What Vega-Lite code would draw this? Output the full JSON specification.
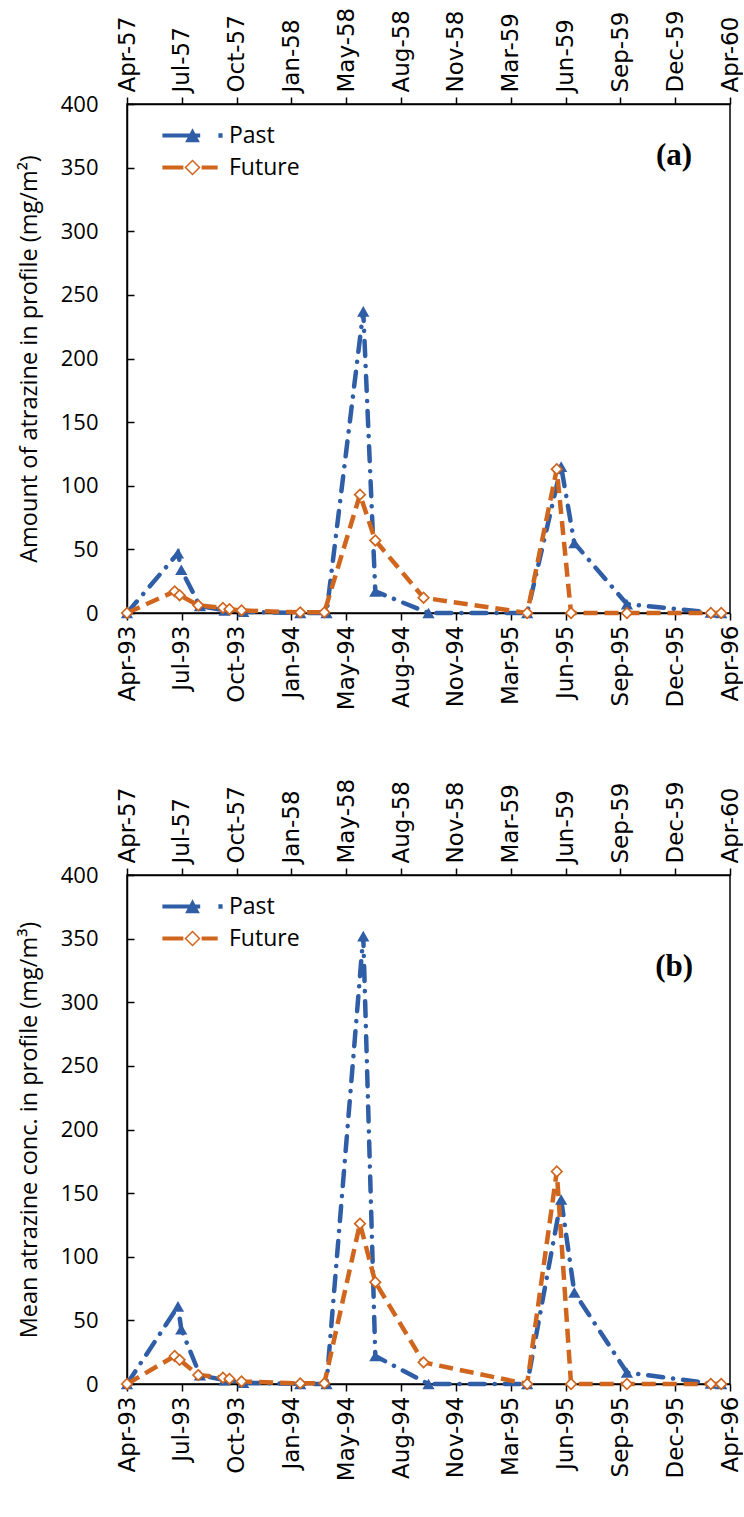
{
  "$schema": "https://vega.github.io/schema/vega-lite/v6.json",
  "background": "white",
  "padding": {"left": 16, "top": 6, "right": 0, "bottom": 0},
  "datasets": {
    "atrazine": [
      {"panel": "a", "series": "Past", "date": "1993-04-01", "value": 0},
      {"panel": "a", "series": "Past", "date": "1993-07-03", "value": 47},
      {"panel": "a", "series": "Past", "date": "1993-07-09", "value": 34},
      {"panel": "a", "series": "Past", "date": "1993-08-12", "value": 5.5},
      {"panel": "a", "series": "Past", "date": "1993-09-26", "value": 2},
      {"panel": "a", "series": "Past", "date": "1993-10-30", "value": 1},
      {"panel": "a", "series": "Past", "date": "1994-02-11", "value": 0},
      {"panel": "a", "series": "Past", "date": "1994-03-31", "value": 0},
      {"panel": "a", "series": "Past", "date": "1994-06-06", "value": 237},
      {"panel": "a", "series": "Past", "date": "1994-06-28", "value": 17},
      {"panel": "a", "series": "Past", "date": "1994-10-03", "value": 0},
      {"panel": "a", "series": "Past", "date": "1995-04-01", "value": 0},
      {"panel": "a", "series": "Past", "date": "1995-06-02", "value": 115},
      {"panel": "a", "series": "Past", "date": "1995-06-26", "value": 55},
      {"panel": "a", "series": "Past", "date": "1995-09-30", "value": 7},
      {"panel": "a", "series": "Past", "date": "1996-03-01", "value": 0.5},
      {"panel": "a", "series": "Past", "date": "1996-03-20", "value": 0},
      {"panel": "a", "series": "Future", "date": "1993-04-01", "value": 0},
      {"panel": "a", "series": "Future", "date": "1993-06-27", "value": 17},
      {"panel": "a", "series": "Future", "date": "1993-07-06", "value": 14},
      {"panel": "a", "series": "Future", "date": "1993-08-09", "value": 6},
      {"panel": "a", "series": "Future", "date": "1993-09-23", "value": 4},
      {"panel": "a", "series": "Future", "date": "1993-10-05", "value": 3},
      {"panel": "a", "series": "Future", "date": "1993-10-27", "value": 2},
      {"panel": "a", "series": "Future", "date": "1994-02-11", "value": 0.5},
      {"panel": "a", "series": "Future", "date": "1994-03-27", "value": 0.5},
      {"panel": "a", "series": "Future", "date": "1994-05-31", "value": 93},
      {"panel": "a", "series": "Future", "date": "1994-06-28", "value": 57},
      {"panel": "a", "series": "Future", "date": "1994-09-24", "value": 12},
      {"panel": "a", "series": "Future", "date": "1995-04-01", "value": 0},
      {"panel": "a", "series": "Future", "date": "1995-05-25", "value": 113},
      {"panel": "a", "series": "Future", "date": "1995-06-20", "value": 0},
      {"panel": "a", "series": "Future", "date": "1995-09-30", "value": 0},
      {"panel": "a", "series": "Future", "date": "1996-03-01", "value": 0},
      {"panel": "a", "series": "Future", "date": "1996-03-20", "value": 0},
      {"panel": "b", "series": "Past", "date": "1993-04-01", "value": 0},
      {"panel": "b", "series": "Past", "date": "1993-07-03", "value": 61},
      {"panel": "b", "series": "Past", "date": "1993-07-09", "value": 43},
      {"panel": "b", "series": "Past", "date": "1993-08-12", "value": 7},
      {"panel": "b", "series": "Past", "date": "1993-09-26", "value": 3},
      {"panel": "b", "series": "Past", "date": "1993-10-30", "value": 1},
      {"panel": "b", "series": "Past", "date": "1994-02-11", "value": 0},
      {"panel": "b", "series": "Past", "date": "1994-03-31", "value": 0},
      {"panel": "b", "series": "Past", "date": "1994-06-06", "value": 352},
      {"panel": "b", "series": "Past", "date": "1994-06-28", "value": 22},
      {"panel": "b", "series": "Past", "date": "1994-10-03", "value": 0},
      {"panel": "b", "series": "Past", "date": "1995-04-01", "value": 0},
      {"panel": "b", "series": "Past", "date": "1995-06-02", "value": 145},
      {"panel": "b", "series": "Past", "date": "1995-06-26", "value": 72},
      {"panel": "b", "series": "Past", "date": "1995-09-30", "value": 9},
      {"panel": "b", "series": "Past", "date": "1996-03-01", "value": 0.5},
      {"panel": "b", "series": "Past", "date": "1996-03-20", "value": 0},
      {"panel": "b", "series": "Future", "date": "1993-04-01", "value": 0},
      {"panel": "b", "series": "Future", "date": "1993-06-27", "value": 22},
      {"panel": "b", "series": "Future", "date": "1993-07-06", "value": 19},
      {"panel": "b", "series": "Future", "date": "1993-08-09", "value": 7},
      {"panel": "b", "series": "Future", "date": "1993-09-23", "value": 5},
      {"panel": "b", "series": "Future", "date": "1993-10-05", "value": 4},
      {"panel": "b", "series": "Future", "date": "1993-10-27", "value": 2},
      {"panel": "b", "series": "Future", "date": "1994-02-11", "value": 0.5},
      {"panel": "b", "series": "Future", "date": "1994-03-27", "value": 0.5},
      {"panel": "b", "series": "Future", "date": "1994-05-31", "value": 126},
      {"panel": "b", "series": "Future", "date": "1994-06-28", "value": 80},
      {"panel": "b", "series": "Future", "date": "1994-09-24", "value": 17},
      {"panel": "b", "series": "Future", "date": "1995-04-01", "value": 0},
      {"panel": "b", "series": "Future", "date": "1995-05-25", "value": 167},
      {"panel": "b", "series": "Future", "date": "1995-06-20", "value": 0},
      {"panel": "b", "series": "Future", "date": "1995-09-30", "value": 0},
      {"panel": "b", "series": "Future", "date": "1996-03-01", "value": 0},
      {"panel": "b", "series": "Future", "date": "1996-03-20", "value": 0}
    ]
  },
  "config": {
    "view": {"stroke": "black", "strokeWidth": 1.5},
    "axis": {
      "domainColor": "black", "domainWidth": 1.5,
      "tickColor": "black", "tickWidth": 1.5,
      "labelColor": "black", "labelFont": "Open Sans", "labelFontSize": 22,
      "titleFont": "Open Sans", "titleFontSize": 23.5, "titleColor": "black", "titleFontWeight": "normal",
      "grid": false
    },
    "axisX": {"labelFont": "DejaVu Sans", "labelFontSize": 23},
    "legend": {
      "orient": "none", "legendX": 54, "legendY": 20, "title": null, "padding": 0,
      "labelFont": "Open Sans", "labelFontSize": 23, "labelColor": "black", "labelOffset": 25,
      "symbolSize": 196, "rowPadding": 8
    }
  },
  "spacing": 66,
  "resolve": {"scale": {"color": "independent"}, "legend": {"color": "independent"}},
  "vconcat": [
    {
      "width": 603, "height": 509,
      "data": {"name": "atrazine"},
      "transform": [{"filter": "datum.panel === 'a'"}],
      "resolve": {"axis": {"x": "independent"}},
      "layer": [
        {
          "transform": [{"filter": "datum.series === 'Past'"}],
          "mark": {"type": "line", "strokeWidth": 4.5, "strokeDash": [15, 10, 0.1, 10], "strokeCap": "round"},
          "encoding": {
            "x": {"field": "date", "type": "temporal",
              "scale": {"type": "utc", "domain": [{"year": 1993, "month": 4, "date": 1, "utc": true}, {"year": 1996, "month": 4, "date": 5, "utc": true}]},
              "axis": {"orient": "bottom", "title": null, "format": "%b-%y", "labelAngle": -90, "tickSize": 7, "labelPadding": 5,
                "values": [{"year": 1993, "month": 4, "date": 1, "utc": true}, {"year": 1993, "month": 7, "date": 10, "utc": true}, {"year": 1993, "month": 10, "date": 18, "utc": true}, {"year": 1994, "month": 1, "date": 26, "utc": true}, {"year": 1994, "month": 5, "date": 6, "utc": true}, {"year": 1994, "month": 8, "date": 14, "utc": true}, {"year": 1994, "month": 11, "date": 22, "utc": true}, {"year": 1995, "month": 3, "date": 2, "utc": true}, {"year": 1995, "month": 6, "date": 10, "utc": true}, {"year": 1995, "month": 9, "date": 18, "utc": true}, {"year": 1995, "month": 12, "date": 27, "utc": true}, {"year": 1996, "month": 4, "date": 5, "utc": true}]}},
            "y": {"field": "value", "type": "quantitative",
              "scale": {"domain": [0, 400], "nice": false},
              "axis": {"title": "Amount of atrazine in profile (mg/m²)", "values": [0, 50, 100, 150, 200, 250, 300, 350, 400], "tickSize": -7, "labelPadding": 36, "titlePadding": 19}},
            "color": {"field": "series", "type": "nominal",
              "scale": {"domain": ["Past", "Future"], "range": ["#2F5DA6", "#D0661E"]},
              "legend": {"encode": {"symbols": {"update": {
                "shape": {"signal": "datum.value === 'Past' ? 'M-4.3,-0.3H1.1V0.3H-4.3Z M-1.05,0.95L0,-1.05L1.05,0.95Z M3.7,-0.32H4.3V0.32H3.7Z' : 'M-4.3,-0.3H-1.3V0.3H-4.3Z M0,-1.15L1.15,0L0,1.15L-1.15,0Z M0,-0.85L-0.85,0L0,0.85L0.85,0Z M1.3,-0.3H3.6V0.3H1.3Z'"},
                "fill": {"signal": "datum.value === 'Past' ? '#2F5DA6' : '#D0661E'"},
                "stroke": {"value": "transparent"}, "strokeWidth": {"value": 0}, "opacity": {"value": 1}, "fillOpacity": {"value": 1}}}}}}
          }
        },
        {
          "transform": [{"filter": "datum.series === 'Future'"}],
          "mark": {"type": "line", "strokeWidth": 4.5, "strokeDash": [14, 7]},
          "encoding": {
            "x": {"field": "date", "type": "temporal",
              "axis": {"orient": "top", "title": null, "labelAngle": -90, "tickSize": 7, "labelPadding": 5,
                "labelExpr": "utcFormat(datum.value, '%b-') + (toNumber(utcFormat(datum.value, '%y')) - 36)",
                "values": [{"year": 1993, "month": 4, "date": 1, "utc": true}, {"year": 1993, "month": 7, "date": 10, "utc": true}, {"year": 1993, "month": 10, "date": 18, "utc": true}, {"year": 1994, "month": 1, "date": 26, "utc": true}, {"year": 1994, "month": 5, "date": 6, "utc": true}, {"year": 1994, "month": 8, "date": 14, "utc": true}, {"year": 1994, "month": 11, "date": 22, "utc": true}, {"year": 1995, "month": 3, "date": 2, "utc": true}, {"year": 1995, "month": 6, "date": 10, "utc": true}, {"year": 1995, "month": 9, "date": 18, "utc": true}, {"year": 1995, "month": 12, "date": 27, "utc": true}, {"year": 1996, "month": 4, "date": 5, "utc": true}]}},
            "y": {"field": "value", "type": "quantitative"},
            "color": {"field": "series", "type": "nominal"}
          }
        },
        {
          "transform": [{"filter": "datum.series === 'Past'"}],
          "mark": {"type": "point", "shape": "triangle-up", "filled": true, "size": 150, "color": "#2F5DA6", "opacity": 1},
          "encoding": {
            "x": {"field": "date", "type": "temporal", "axis": null},
            "y": {"field": "value", "type": "quantitative"}
          }
        },
        {
          "transform": [{"filter": "datum.series === 'Future'"}],
          "mark": {"type": "point", "shape": "diamond", "filled": true, "fill": "white", "stroke": "#D0661E", "strokeWidth": 1.7, "size": 110, "opacity": 1},
          "encoding": {
            "x": {"field": "date", "type": "temporal", "axis": null},
            "y": {"field": "value", "type": "quantitative"}
          }
        },
        {
          "data": {"values": [{}]},
          "mark": {"type": "text", "text": "(a)", "font": "Liberation Serif", "fontWeight": "bold", "fontSize": 31, "color": "black"},
          "encoding": {
            "x": {"datum": {"year": 1995, "month": 12, "date": 25, "utc": true}, "type": "temporal", "axis": null},
            "y": {"datum": 359, "type": "quantitative"}
          }
        }
      ]
    },
    {
      "width": 603, "height": 509,
      "data": {"name": "atrazine"},
      "transform": [{"filter": "datum.panel === 'b'"}],
      "resolve": {"axis": {"x": "independent"}},
      "layer": [
        {
          "transform": [{"filter": "datum.series === 'Past'"}],
          "mark": {"type": "line", "strokeWidth": 4.5, "strokeDash": [15, 10, 0.1, 10], "strokeCap": "round"},
          "encoding": {
            "x": {"field": "date", "type": "temporal",
              "scale": {"type": "utc", "domain": [{"year": 1993, "month": 4, "date": 1, "utc": true}, {"year": 1996, "month": 4, "date": 5, "utc": true}]},
              "axis": {"orient": "bottom", "title": null, "format": "%b-%y", "labelAngle": -90, "tickSize": 7, "labelPadding": 5,
                "values": [{"year": 1993, "month": 4, "date": 1, "utc": true}, {"year": 1993, "month": 7, "date": 10, "utc": true}, {"year": 1993, "month": 10, "date": 18, "utc": true}, {"year": 1994, "month": 1, "date": 26, "utc": true}, {"year": 1994, "month": 5, "date": 6, "utc": true}, {"year": 1994, "month": 8, "date": 14, "utc": true}, {"year": 1994, "month": 11, "date": 22, "utc": true}, {"year": 1995, "month": 3, "date": 2, "utc": true}, {"year": 1995, "month": 6, "date": 10, "utc": true}, {"year": 1995, "month": 9, "date": 18, "utc": true}, {"year": 1995, "month": 12, "date": 27, "utc": true}, {"year": 1996, "month": 4, "date": 5, "utc": true}]}},
            "y": {"field": "value", "type": "quantitative",
              "scale": {"domain": [0, 400], "nice": false},
              "axis": {"title": "Mean atrazine conc. in profile (mg/m³)", "values": [0, 50, 100, 150, 200, 250, 300, 350, 400], "tickSize": -7, "labelPadding": 36, "titlePadding": 19}},
            "color": {"field": "series", "type": "nominal",
              "scale": {"domain": ["Past", "Future"], "range": ["#2F5DA6", "#D0661E"]},
              "legend": {"encode": {"symbols": {"update": {
                "shape": {"signal": "datum.value === 'Past' ? 'M-4.3,-0.3H1.1V0.3H-4.3Z M-1.05,0.95L0,-1.05L1.05,0.95Z M3.7,-0.32H4.3V0.32H3.7Z' : 'M-4.3,-0.3H-1.3V0.3H-4.3Z M0,-1.15L1.15,0L0,1.15L-1.15,0Z M0,-0.85L-0.85,0L0,0.85L0.85,0Z M1.3,-0.3H3.6V0.3H1.3Z'"},
                "fill": {"signal": "datum.value === 'Past' ? '#2F5DA6' : '#D0661E'"},
                "stroke": {"value": "transparent"}, "strokeWidth": {"value": 0}, "opacity": {"value": 1}, "fillOpacity": {"value": 1}}}}}}
          }
        },
        {
          "transform": [{"filter": "datum.series === 'Future'"}],
          "mark": {"type": "line", "strokeWidth": 4.5, "strokeDash": [14, 7]},
          "encoding": {
            "x": {"field": "date", "type": "temporal",
              "axis": {"orient": "top", "title": null, "labelAngle": -90, "tickSize": 7, "labelPadding": 5,
                "labelExpr": "utcFormat(datum.value, '%b-') + (toNumber(utcFormat(datum.value, '%y')) - 36)",
                "values": [{"year": 1993, "month": 4, "date": 1, "utc": true}, {"year": 1993, "month": 7, "date": 10, "utc": true}, {"year": 1993, "month": 10, "date": 18, "utc": true}, {"year": 1994, "month": 1, "date": 26, "utc": true}, {"year": 1994, "month": 5, "date": 6, "utc": true}, {"year": 1994, "month": 8, "date": 14, "utc": true}, {"year": 1994, "month": 11, "date": 22, "utc": true}, {"year": 1995, "month": 3, "date": 2, "utc": true}, {"year": 1995, "month": 6, "date": 10, "utc": true}, {"year": 1995, "month": 9, "date": 18, "utc": true}, {"year": 1995, "month": 12, "date": 27, "utc": true}, {"year": 1996, "month": 4, "date": 5, "utc": true}]}},
            "y": {"field": "value", "type": "quantitative"},
            "color": {"field": "series", "type": "nominal"}
          }
        },
        {
          "transform": [{"filter": "datum.series === 'Past'"}],
          "mark": {"type": "point", "shape": "triangle-up", "filled": true, "size": 150, "color": "#2F5DA6", "opacity": 1},
          "encoding": {
            "x": {"field": "date", "type": "temporal", "axis": null},
            "y": {"field": "value", "type": "quantitative"}
          }
        },
        {
          "transform": [{"filter": "datum.series === 'Future'"}],
          "mark": {"type": "point", "shape": "diamond", "filled": true, "fill": "white", "stroke": "#D0661E", "strokeWidth": 1.7, "size": 110, "opacity": 1},
          "encoding": {
            "x": {"field": "date", "type": "temporal", "axis": null},
            "y": {"field": "value", "type": "quantitative"}
          }
        },
        {
          "data": {"values": [{}]},
          "mark": {"type": "text", "text": "(b)", "font": "Liberation Serif", "fontWeight": "bold", "fontSize": 31, "color": "black"},
          "encoding": {
            "x": {"datum": {"year": 1995, "month": 12, "date": 25, "utc": true}, "type": "temporal", "axis": null},
            "y": {"datum": 328, "type": "quantitative"}
          }
        }
      ]
    }
  ]
}
